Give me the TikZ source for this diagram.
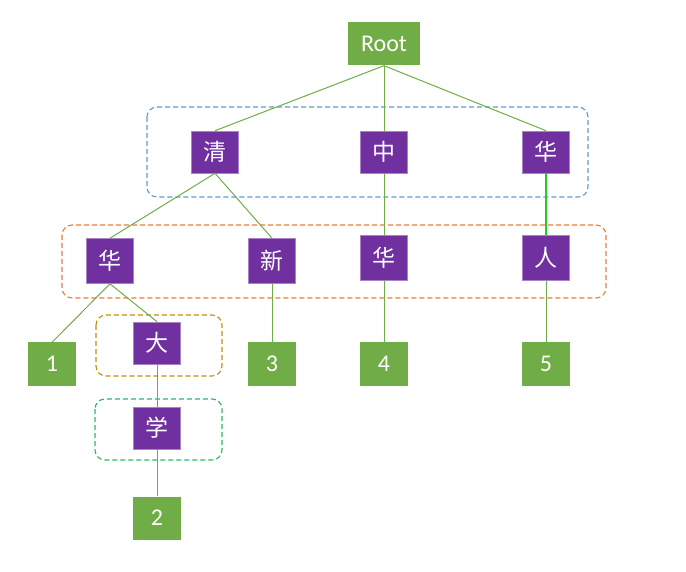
\documentclass[tikz,border=0pt]{standalone}
\usepackage{fontspec}
\setmainfont{Carlito}
\newfontfamily\cjk{Noto Sans CJK SC}
\definecolor{leafgreen}{HTML}{70AD47}
\definecolor{purp}{HTML}{7030A0}
\definecolor{edgec}{HTML}{70AD47}
\definecolor{brightg}{HTML}{22CC22}
\definecolor{blued}{HTML}{5B9BD5}
\definecolor{oranged}{HTML}{ED7D31}
\definecolor{goldd}{HTML}{C09000}
\definecolor{greend}{HTML}{22BB66}
\begin{document}
\begin{tikzpicture}[x=1pt,y=-1pt,
  leaf/.style={fill=leafgreen, text=white, minimum width=48pt, minimum height=43pt, inner sep=0pt, font=\fontsize{24}{24}\selectfont},
  charbox/.style={fill=purp, draw=purp!60!white, line width=0.6pt, text=white, minimum width=47pt, minimum height=42pt, inner sep=0pt, font=\cjk\fontsize{23}{23}\selectfont},
  edge/.style={draw=edgec, line width=1pt},
  grp/.style={rounded corners=10pt, line width=1.1pt, dash pattern=on 5pt off 3pt}]
\useasboundingbox (0,0) rectangle (686,572);
% groups
\draw[grp, draw=blued] (147,107) rectangle (588,197);
\draw[grp, draw=oranged] (62,225) rectangle (606,298);
\draw[grp, draw=goldd] (96,315) rectangle (222,376);
\draw[grp, draw=greend] (95,399) rectangle (222,460);
% nodes
\node[leaf, minimum width=72pt] (root) at (384,44) {Root};
\node[charbox] (q) at (215,152) {清};
\node[charbox] (z) at (384,152) {中};
\node[charbox] (h1) at (546,152) {华};
\node[charbox, minimum height=45pt] (h2) at (110,261) {华};
\node[charbox, minimum height=45pt] (x) at (272,261) {新};
\node[charbox, minimum height=45pt] (h3) at (384,258) {华};
\node[charbox, minimum height=45pt] (r) at (546,258) {人};
\node[leaf] (n1) at (52,364) {1};
\node[charbox] (d) at (157,343) {大};
\node[charbox] (xue) at (157,428) {学};
\node[leaf] (n2) at (157,518) {2};
\node[leaf] (n3) at (272,364) {3};
\node[leaf] (n4) at (384,364) {4};
\node[leaf] (n5) at (546,364) {5};
% edges
\draw[edge] (root.south) -- (q.north);
\draw[edge] (root.south) -- (z.north);
\draw[edge] (root.south) -- (h1.north);
\draw[edge] (q.south) -- (h2.north);
\draw[edge] (q.south) -- (x.north);
\draw[edge] (z.south) -- (h3.north);
\draw[draw=brightg, line width=1.6pt] (h1.south) -- (r.north);
\draw[edge] (h2.south) -- (n1.north);
\draw[edge] (h2.south) -- (d.north);
\draw[edge] (x.south) -- (n3.north);
\draw[edge] (h3.south) -- (n4.north);
\draw[edge] (r.south) -- (n5.north);
\draw[edge] (d.south) -- (xue.north);
\draw[edge] (xue.south) -- (n2.north);
\end{tikzpicture}
\end{document}
